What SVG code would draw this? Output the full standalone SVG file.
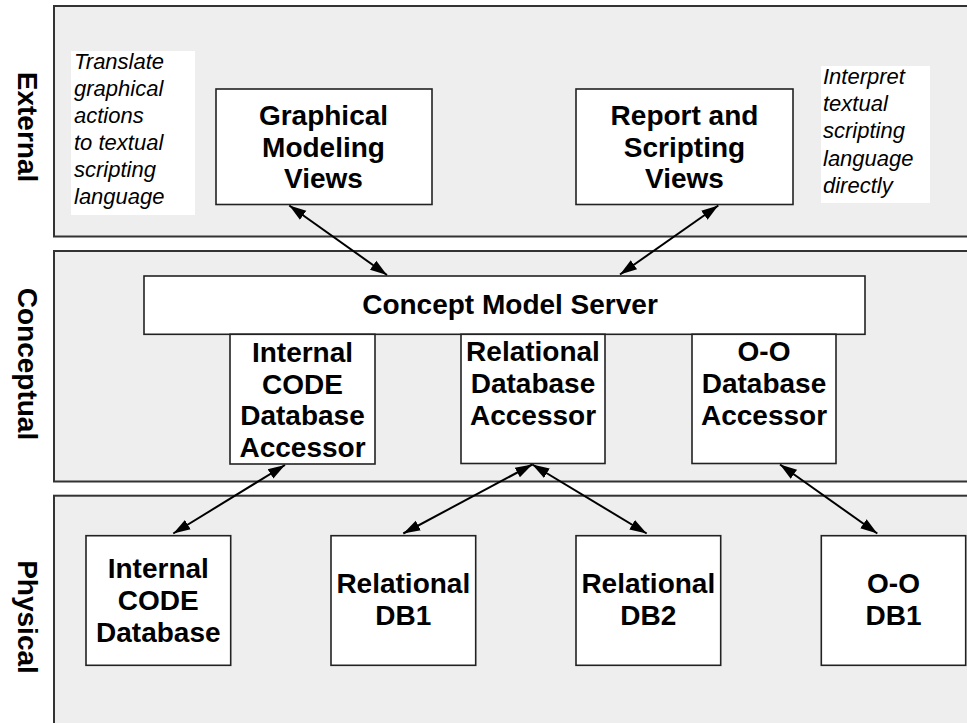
<svg xmlns="http://www.w3.org/2000/svg" width="967" height="723" viewBox="0 0 967 723">
  <style>
    .panel { fill: #eeeeee; stroke: #333333; stroke-width: 2; }
    .box { fill: #ffffff; stroke: #222222; stroke-width: 1.6; }
    .note { fill: #ffffff; stroke: none; }
    .lbl { font-family: "Liberation Sans", Arial, Helvetica, sans-serif; font-weight: bold; font-size: 28px; fill: #000000; text-anchor: middle; }
    .side { font-family: "Liberation Sans", Arial, Helvetica, sans-serif; font-weight: bold; font-size: 28px; fill: #000000; text-anchor: middle; }
    .ann { font-family: "Liberation Sans", Arial, Helvetica, sans-serif; font-style: italic; font-size: 22px; fill: #000000; }
    .conn { stroke: #000000; stroke-width: 2; fill: none; marker-start: url(#head); marker-end: url(#head); }
  </style>
  <defs>
    <marker id="head" markerUnits="userSpaceOnUse" markerWidth="20" markerHeight="14" viewBox="0 -7 20 14" refX="17" refY="0" orient="auto-start-reverse">
      <path d="M0,-5.5 L17,0 L0,5.5 z" fill="#000000"/>
    </marker>
  </defs>

  <!-- layer bands -->
  <g id="layers">
    <rect class="panel" x="54" y="6" width="1000" height="230.5"/>
    <rect class="panel" x="54" y="251" width="1000" height="230.5"/>
    <rect class="panel" x="54" y="495.7" width="1000" height="300"/>
    <text class="side" transform="translate(17.5,127) rotate(90)">External</text>
    <text class="side" transform="translate(17.5,364) rotate(90)">Conceptual</text>
    <text class="side" transform="translate(17.5,617) rotate(90)">Physical</text>
  </g>

  <!-- annotations -->
  <g id="note-translate">
    <rect class="note" x="71" y="51" width="124" height="164"/>
    <text class="ann" x="74" y="68.5">Translate</text>
    <text class="ann" x="74" y="95.6">graphical</text>
    <text class="ann" x="74" y="122.7">actions</text>
    <text class="ann" x="74" y="149.8">to textual</text>
    <text class="ann" x="74" y="176.9">scripting</text>
    <text class="ann" x="74" y="204">language</text>
  </g>
  <g id="note-interpret">
    <rect class="note" x="821" y="66" width="109" height="137"/>
    <text class="ann" x="823" y="83.5">Interpret</text>
    <text class="ann" x="823" y="110.5">textual</text>
    <text class="ann" x="823" y="138">scripting</text>
    <text class="ann" x="823" y="165.5">language</text>
    <text class="ann" x="823" y="193">directly</text>
  </g>

  <!-- external layer -->
  <g id="graphical-views">
    <rect class="box" x="216" y="89" width="216" height="115.5"/>
    <text class="lbl" x="323.5" y="125">Graphical</text>
    <text class="lbl" x="323.5" y="156.5">Modeling</text>
    <text class="lbl" x="323.5" y="188">Views</text>
  </g>
  <g id="report-views">
    <rect class="box" x="576" y="89" width="217" height="115.5"/>
    <text class="lbl" x="684.5" y="125">Report and</text>
    <text class="lbl" x="684.5" y="156.5">Scripting</text>
    <text class="lbl" x="684.5" y="188">Views</text>
  </g>

  <!-- conceptual layer -->
  <g id="concept-server">
    <rect class="box" x="144" y="276" width="721" height="58.3"/>
    <text class="lbl" x="510" y="313.5">Concept Model Server</text>
  </g>
  <g id="code-accessor">
    <rect class="box" x="230" y="334.3" width="145" height="129.7"/>
    <text class="lbl" x="302.5" y="361.5">Internal</text>
    <text class="lbl" x="302.5" y="393.5">CODE</text>
    <text class="lbl" x="302.5" y="425">Database</text>
    <text class="lbl" x="302.5" y="456.5">Accessor</text>
  </g>
  <g id="relational-accessor">
    <rect class="box" x="461" y="334.3" width="144" height="129.2"/>
    <text class="lbl" x="533" y="361">Relational</text>
    <text class="lbl" x="533" y="393">Database</text>
    <text class="lbl" x="533" y="425">Accessor</text>
  </g>
  <g id="oo-accessor">
    <rect class="box" x="692" y="334.3" width="144" height="129.2"/>
    <text class="lbl" x="764" y="361">O-O</text>
    <text class="lbl" x="764" y="393">Database</text>
    <text class="lbl" x="764" y="425">Accessor</text>
  </g>

  <!-- physical layer -->
  <g id="code-db">
    <rect class="box" x="86" y="535.7" width="144.7" height="129.6"/>
    <text class="lbl" x="158.3" y="578">Internal</text>
    <text class="lbl" x="158.3" y="610">CODE</text>
    <text class="lbl" x="158.3" y="641.5">Database</text>
  </g>
  <g id="relational-db1">
    <rect class="box" x="331" y="535.7" width="144.7" height="129.6"/>
    <text class="lbl" x="403.3" y="593">Relational</text>
    <text class="lbl" x="403.3" y="625">DB1</text>
  </g>
  <g id="relational-db2">
    <rect class="box" x="576" y="535.7" width="144.7" height="129.6"/>
    <text class="lbl" x="648.3" y="593">Relational</text>
    <text class="lbl" x="648.3" y="625">DB2</text>
  </g>
  <g id="oo-db1">
    <rect class="box" x="821.3" y="535.7" width="144.4" height="129.6"/>
    <text class="lbl" x="893.5" y="593">O-O</text>
    <text class="lbl" x="893.5" y="625">DB1</text>
  </g>

  <!-- two-way links between layers -->
  <g id="connectors">
    <line class="conn" x1="289.3" y1="205.5" x2="387" y2="275"/>
    <line class="conn" x1="718.3" y1="205.5" x2="620" y2="274.5"/>
    <line class="conn" x1="285" y1="465" x2="173.3" y2="533.5"/>
    <line class="conn" x1="532.3" y1="464.5" x2="403.3" y2="533.5"/>
    <line class="conn" x1="532.3" y1="464.5" x2="646.7" y2="533.5"/>
    <line class="conn" x1="780" y1="464.5" x2="877.3" y2="533.5"/>
  </g>
</svg>
